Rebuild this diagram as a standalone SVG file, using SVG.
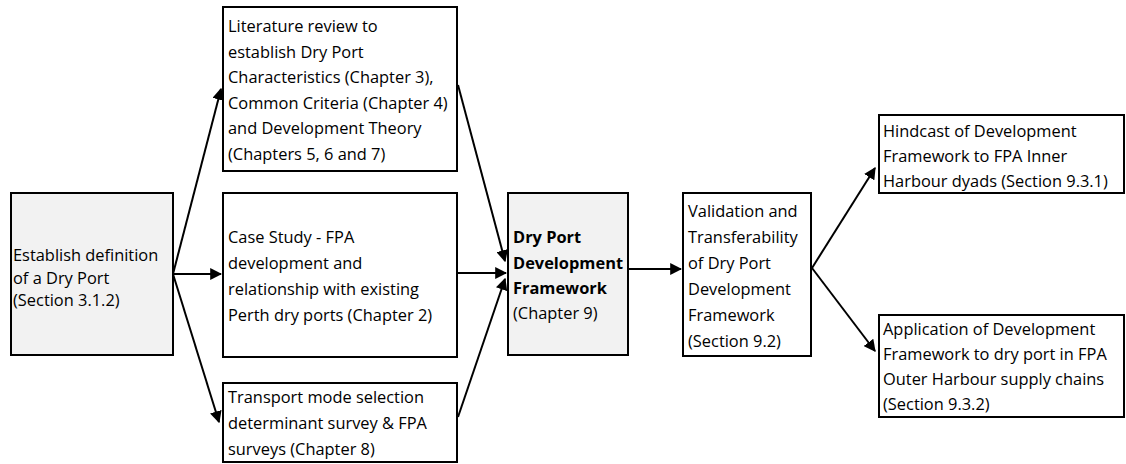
<svg xmlns="http://www.w3.org/2000/svg" width="1126" height="464" viewBox="0 0 1126 464">
  <style>
    .box { fill: #ffffff; stroke: #000000; stroke-width: 2; }
    .box.shade { fill: #f2f2f2; }
    text { font-family: "Open Sans", "Liberation Sans", sans-serif; font-size: 16.4px; fill: #000000; }
    .b { font-weight: bold; }
    .link { stroke: #000000; stroke-width: 2; fill: none; marker-end: url(#head); }
  </style>
  <defs>
    <marker id="head" viewBox="0 0 10 10" refX="9" refY="5" markerWidth="6" markerHeight="6" orient="auto" markerUnits="strokeWidth">
      <path d="M0,0 L10,5 L0,10 z" fill="#000000"/>
    </marker>
  </defs>

  <rect width="1126" height="464" fill="#ffffff"/>

  <!-- connectors -->
  <g id="connectors">
    <line class="link" x1="173" y1="274" x2="221" y2="89"/>
    <line class="link" x1="173" y1="274" x2="221" y2="274"/>
    <line class="link" x1="173" y1="274" x2="219" y2="422"/>
    <line class="link" x1="458" y1="85" x2="505" y2="261"/>
    <line class="link" x1="458" y1="273" x2="506" y2="273"/>
    <line class="link" x1="458" y1="417" x2="505" y2="279"/>
    <line class="link" x1="628" y1="269" x2="681" y2="269"/>
    <line class="link" x1="812" y1="268" x2="875" y2="168"/>
    <line class="link" x1="812" y1="268" x2="875" y2="351"/>
  </g>

  <!-- source definition -->
  <g id="define">
    <rect class="box shade" x="11" y="193" width="162" height="162"/>
    <text x="13" y="261">Establish definition</text>
    <text x="13" y="283.5">of a Dry Port</text>
    <text x="13" y="306">(Section 3.1.2)</text>
  </g>

  <g id="literature">
    <rect class="box" x="223" y="7" width="234" height="164"/>
    <text x="228" y="32">Literature review to</text>
    <text x="228" y="57.5">establish Dry Port</text>
    <text x="228" y="83">Characteristics (Chapter 3),</text>
    <text x="228" y="108.5">Common Criteria (Chapter 4)</text>
    <text x="228" y="134">and Development Theory</text>
    <text x="228" y="159.5">(Chapters 5, 6 and 7)</text>
  </g>

  <g id="case-study">
    <rect class="box" x="223" y="193" width="234" height="164"/>
    <text x="228" y="243">Case Study - FPA</text>
    <text x="228" y="269">development and</text>
    <text x="228" y="295">relationship with existing</text>
    <text x="228" y="321">Perth dry ports (Chapter 2)</text>
  </g>

  <g id="transport-survey">
    <rect class="box" x="223" y="383" width="234" height="79"/>
    <text x="228" y="403">Transport mode selection</text>
    <text x="228" y="429">determinant survey &amp; FPA</text>
    <text x="228" y="455">surveys (Chapter 8)</text>
  </g>

  <g id="framework">
    <rect class="box shade" x="508" y="193" width="120" height="162"/>
    <text class="b" x="513" y="243">Dry Port</text>
    <text class="b" x="513" y="268.5">Development</text>
    <text class="b" x="513" y="294">Framework</text>
    <text x="513" y="319">(Chapter 9)</text>
  </g>

  <g id="validation">
    <rect class="box" x="683" y="193" width="128" height="163"/>
    <text x="688" y="217">Validation and</text>
    <text x="688" y="243">Transferability</text>
    <text x="688" y="269">of Dry Port</text>
    <text x="688" y="295">Development</text>
    <text x="688" y="321">Framework</text>
    <text x="688" y="347">(Section 9.2)</text>
  </g>

  <g id="hindcast">
    <rect class="box" x="879" y="115" width="245" height="78"/>
    <text x="883" y="137">Hindcast of Development</text>
    <text x="883" y="162">Framework to FPA Inner</text>
    <text x="883" y="187">Harbour dyads (Section 9.3.1)</text>
  </g>

  <g id="application">
    <rect class="box" x="879" y="315" width="245" height="102"/>
    <text x="883" y="335">Application of Development</text>
    <text x="883" y="360">Framework to dry port in FPA</text>
    <text x="883" y="385">Outer Harbour supply chains</text>
    <text x="883" y="410">(Section 9.3.2)</text>
  </g>
</svg>
